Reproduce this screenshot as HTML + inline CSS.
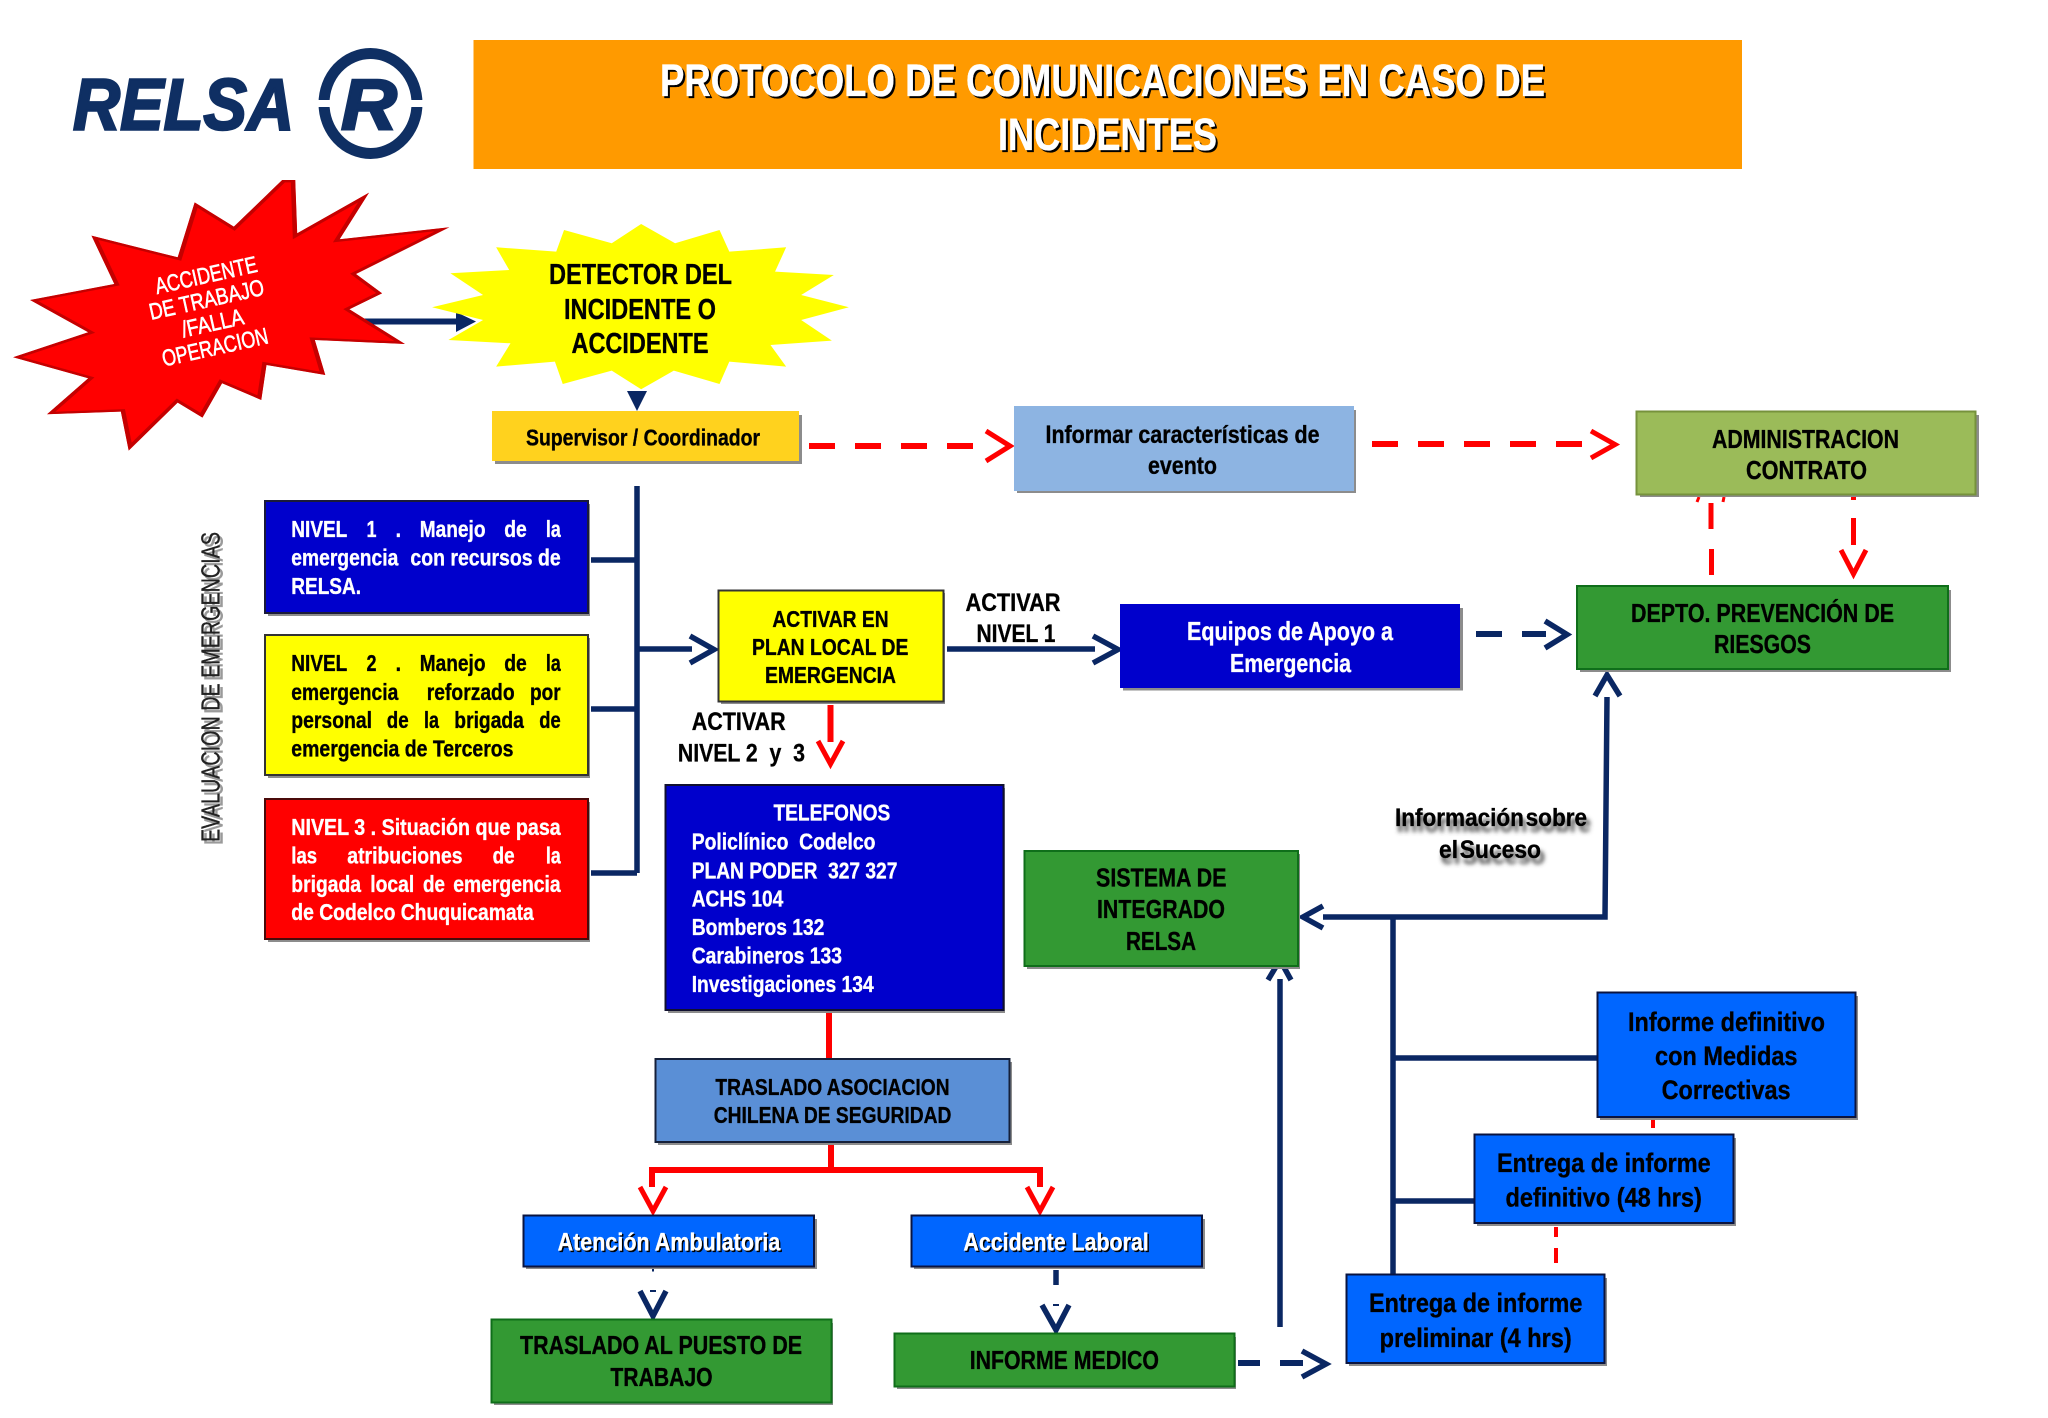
<!DOCTYPE html>
<html lang="es"><head><meta charset="utf-8"><title>Protocolo de comunicaciones</title>
<style>
html,body{margin:0;padding:0;background:#fff}
svg{display:block}
text{font-family:"Liberation Sans",Arial,sans-serif;font-weight:bold;white-space:pre;stroke:#000;stroke-width:.35}
.s{fill:#8c8c8c}
.n{fill:none;stroke:#0a2763;stroke-width:5.5}
.r{fill:none;stroke:#f00;stroke-width:5}
.w,.w text{fill:#fff}
text.w,.w text{stroke:#fff}
.x text{stroke:none}
</style></head><body>
<svg xmlns="http://www.w3.org/2000/svg" width="2048" height="1418" viewBox="0 0 2048 1418">
<defs>
<filter id="bl" x="-10%" y="-30%" width="120%" height="160%"><feGaussianBlur stdDeviation="2"/></filter>
<clipPath id="rc"><polygon points="452,540 455,700 565,578 520,718 688,682 545,822 585,880 535,928 620,1032 482,1020 498,1125 408,1095 400,1200 340,1150 310,1253 272,1208 197,1352 185,1235 72,1243 135,1135 20,1072 135,997 46,900 175,852 140,707 272,772 298,607 358,680 432,540"/></clipPath>
</defs>
<rect width="2048" height="1418" fill="#fff"/>

<!-- logo -->
<text x="73" y="129.500" font-size="72" font-style="italic" fill="#0f2f63" textLength="221" lengthAdjust="spacingAndGlyphs" style="stroke:#0f2f63;stroke-width:2.4">RELSA</text>
<ellipse cx="370.500" cy="103.500" rx="46.500" ry="50" fill="none" stroke="#0f2f63" stroke-width="11"/>
<rect x="316" y="100" width="108" height="7" fill="#fff"/>
<text x="341" y="129" font-size="71" font-style="italic" fill="#0f2f63" textLength="56" lengthAdjust="spacingAndGlyphs" style="stroke:#0f2f63;stroke-width:2.4">R</text>

<!-- title -->
<rect x="473.500" y="40" width="1268.500" height="129" fill="#ff9a00"/>
<g font-size="45" fill="#000">
<text x="662" y="98" textLength="885" lengthAdjust="spacingAndGlyphs">PROTOCOLO DE COMUNICACIONES EN CASO DE</text>
<text x="1000" y="152" textLength="219" lengthAdjust="spacingAndGlyphs">INCIDENTES</text>
</g>
<g class="w" font-size="45">
<text x="660" y="96" textLength="885" lengthAdjust="spacingAndGlyphs">PROTOCOLO DE COMUNICACIONES EN CASO DE</text>
<text x="998" y="150" textLength="219" lengthAdjust="spacingAndGlyphs">INCIDENTES</text>
</g>

<!-- star connector -->
<rect x="362" y="318.500" width="96" height="6" fill="#0a2763"/>
<polygon points="456,312 476,321.500 456,332" fill="#0a2763"/>

<!-- red star -->
<g transform="scale(.6532,.3333)">
<g clip-path="url(#rc)">
<polygon fill="#f00" stroke="#c40000" stroke-width="14" points="452,540 455,700 565,578 520,718 688,682 545,822 585,880 535,928 620,1032 482,1020 498,1125 408,1095 400,1200 340,1150 310,1253 272,1208 197,1352 185,1235 72,1243 135,1135 20,1072 135,997 46,900 175,852 140,707 272,772 298,607 358,680 432,540"/>
</g>
</g>
<g class="w" font-size="23">
<text transform="translate(206,275) rotate(-12.500)" y="8" x="-52" textLength="104" lengthAdjust="spacingAndGlyphs" style="font-weight:normal;stroke-width:.6">ACCIDENTE</text>
<text transform="translate(206,299.500) rotate(-12.500)" y="8" x="-58" textLength="117" lengthAdjust="spacingAndGlyphs" style="font-weight:normal;stroke-width:.6">DE TRABAJO</text>
<text transform="translate(212,323) rotate(-12.500)" y="8" x="-31" textLength="63" lengthAdjust="spacingAndGlyphs" style="font-weight:normal;stroke-width:.6">/FALLA</text>
<text transform="translate(215,347) rotate(-12.500)" y="8" x="-54" textLength="108" lengthAdjust="spacingAndGlyphs" style="font-weight:normal;stroke-width:.6">OPERACION</text>
</g>

<!-- yellow star -->
<g transform="translate(1,0) scale(.6532,.3333)">
<polygon fill="#ffff00" points="980,672 1032,730 1100,690 1115,755 1202,742 1185,815 1275,825 1225,885 1298,922 1225,960 1272,1022 1178,1035 1202,1100 1115,1085 1100,1152 1030,1112 980,1168 935,1112 860,1152 848,1085 758,1100 780,1030 685,1020 738,960 660,922 738,885 688,820 778,810 758,742 850,755 862,690 935,730"/>
</g>
<polygon points="627,391 647,391 637,411" fill="#0a2763"/>
<g font-size="29">
<text x="549" y="284" textLength="183" lengthAdjust="spacingAndGlyphs">DETECTOR DEL</text>
<text x="564" y="319" textLength="152" lengthAdjust="spacingAndGlyphs">INCIDENTE O</text>
<text x="571.500" y="353" textLength="137" lengthAdjust="spacingAndGlyphs">ACCIDENTE</text>
</g>

<!-- connectors under boxes -->
<g class="n">
<path d="M637 486V873"/>
<path d="M591 560H637M591 709H637M591 873H637"/>
<path d="M637 649H692"/>
<path d="M690 636L714 649.500L690 663"/>
<path d="M947 649H1095"/>
<path d="M1093 636L1118 649.500L1093 663"/>
<path d="M1476 634H1502M1522 634H1546" style="stroke-width:6"/>
<path d="M1545 621L1567 634.500L1545 648"/>
<path d="M1607 697L1605 917H1323"/>
<path d="M1595 696L1607 675L1620 696"/>
<path d="M1323 906L1303 917L1323 928"/>
<path d="M1393 917V1274"/>
<path d="M1393 1058H1597M1393 1201H1474"/>
<path d="M1280 979V1327"/>
<path d="M1268 980L1280 960L1291 980"/>
<path d="M1238 1363H1260M1280 1363H1303" style="stroke-width:6"/>
<path d="M1302 1351L1326 1364L1302 1377"/>
<path d="M640 1291L653 1316L666 1291"/>
<path d="M1042 1305L1056 1330L1069 1305"/>
<path d="M1056 1270V1285"/>
<path d="M653 1269V1271.500M650 1291H656M1053 1305H1059" style="stroke-width:2"/>
</g>

<!-- red connectors -->
<g class="r">
<path d="M809 446H986" stroke-dasharray="26 20" style="stroke-width:6"/>
<path d="M986 431L1010 446L986 461"/>
<path d="M1372 444H1591" stroke-dasharray="26 20" style="stroke-width:6"/>
<path d="M1591 431L1615 444.500L1591 458"/>
<path d="M1711 503V529M1711.500 549V575"/>
<path d="M1697 502L1699 497M1724 497L1723 502" style="stroke-width:3"/>
<path d="M1853.500 497V500M1853.500 518V545"/>
<path d="M1841 550L1853.500 574L1866 550"/>
<path d="M830.500 705V742" style="stroke-width:6"/>
<path d="M818 741L830.500 764L843 741"/>
<path d="M829 1012V1058" style="stroke-width:6"/>
<path d="M831 1145V1170" style="stroke-width:6"/>
<path d="M652 1187V1170H1040V1187" style="stroke-width:6"/>
<path d="M640 1187L653 1211L666 1187"/>
<path d="M1027 1187L1040 1211L1053 1187"/>
<path d="M1653 1119V1128M1556 1227V1237M1556 1248V1263" style="stroke-width:4"/>
</g>

<!-- boxes -->
<rect class="s" x="495" y="415" width="307" height="49"/>
<rect x="492" y="411" width="307" height="50" fill="#ffd21e"/>
<text x="526" y="445.500" font-size="23.500" textLength="234" lengthAdjust="spacingAndGlyphs">Supervisor / Coordinador</text>

<rect class="s" x="1017" y="410" width="339" height="83"/>
<rect x="1014" y="406" width="340" height="85" fill="#8db4e2"/>
<text x="1045.500" y="443" font-size="25" textLength="274" lengthAdjust="spacingAndGlyphs">Informar características de</text>
<text x="1148" y="474" font-size="25" textLength="69" lengthAdjust="spacingAndGlyphs">evento</text>

<rect class="s" x="1640" y="415" width="339" height="82"/>
<rect x="1636.500" y="411.500" width="339" height="83" fill="#9bbb59" stroke="#76923c" stroke-width="2"/>
<text x="1712" y="448" font-size="26" textLength="187" lengthAdjust="spacingAndGlyphs">ADMINISTRACION</text>
<text x="1746" y="479" font-size="26" textLength="121" lengthAdjust="spacingAndGlyphs">CONTRATO</text>

<rect class="s" x="1580" y="590" width="371" height="82"/>
<rect x="1577" y="586" width="371" height="83" fill="#339933" stroke="#0f6e1a" stroke-width="2"/>
<text x="1631" y="622" font-size="26" textLength="263" lengthAdjust="spacingAndGlyphs">DEPTO. PREVENCIÓN DE</text>
<text x="1714" y="653" font-size="26" textLength="97" lengthAdjust="spacingAndGlyphs">RIESGOS</text>

<rect class="s" x="1123" y="608" width="340" height="82.500"/>
<rect x="1120" y="604" width="340" height="84" fill="#0000cc"/>
<text class="w" x="1187" y="640" font-size="26" textLength="206" lengthAdjust="spacingAndGlyphs">Equipos de Apoyo a</text>
<text class="w" x="1230" y="672" font-size="26" textLength="121" lengthAdjust="spacingAndGlyphs">Emergencia</text>

<text x="965.500" y="611" font-size="25" textLength="95" lengthAdjust="spacingAndGlyphs">ACTIVAR</text>
<text x="976.500" y="642" font-size="25" textLength="79" lengthAdjust="spacingAndGlyphs">NIVEL 1</text>

<!-- Nivel 1 -->
<rect class="s" x="268" y="504" width="322" height="112"/>
<rect x="265" y="501" width="323" height="112" fill="#0000cc" stroke="#1a1a3a" stroke-width="2"/>
<g class="w" font-size="23">
<text x="291.300" y="537" textLength="56" lengthAdjust="spacingAndGlyphs">NIVEL</text>
<text x="366.500" y="537" textLength="10" lengthAdjust="spacingAndGlyphs">1</text>
<text x="395.600" y="537" textLength="5.400" lengthAdjust="spacingAndGlyphs">.</text>
<text x="419.700" y="537" textLength="65.800" lengthAdjust="spacingAndGlyphs">Manejo</text>
<text x="504.200" y="537" textLength="22.500" lengthAdjust="spacingAndGlyphs">de</text>
<text x="545.900" y="537" textLength="14.800" lengthAdjust="spacingAndGlyphs">la</text>
<text x="291.300" y="565.500" textLength="107" lengthAdjust="spacingAndGlyphs">emergencia</text>
<text x="410.400" y="565.500" textLength="150.300" lengthAdjust="spacingAndGlyphs">con recursos de</text>
<text x="291.300" y="594" textLength="69.700" lengthAdjust="spacingAndGlyphs">RELSA.</text>
</g>

<!-- Nivel 2 -->
<rect class="s" x="268" y="638" width="322" height="140"/>
<rect x="265" y="635" width="323" height="140" fill="#ffff00" stroke="#333" stroke-width="2"/>
<g font-size="23">
<text x="291.300" y="671" textLength="56" lengthAdjust="spacingAndGlyphs">NIVEL</text>
<text x="366.500" y="671" textLength="10" lengthAdjust="spacingAndGlyphs">2</text>
<text x="395.600" y="671" textLength="5.400" lengthAdjust="spacingAndGlyphs">.</text>
<text x="419.700" y="671" textLength="65.800" lengthAdjust="spacingAndGlyphs">Manejo</text>
<text x="504.200" y="671" textLength="22.500" lengthAdjust="spacingAndGlyphs">de</text>
<text x="545.900" y="671" textLength="14.800" lengthAdjust="spacingAndGlyphs">la</text>
<text x="291.300" y="700" textLength="107" lengthAdjust="spacingAndGlyphs">emergencia</text>
<text x="426.800" y="700" textLength="87.800" lengthAdjust="spacingAndGlyphs">reforzado</text>
<text x="530" y="700" textLength="30.700" lengthAdjust="spacingAndGlyphs">por</text>
<text x="291.300" y="728" textLength="80.700" lengthAdjust="spacingAndGlyphs">personal</text>
<text x="386.800" y="728" textLength="21.900" lengthAdjust="spacingAndGlyphs">de</text>
<text x="424" y="728" textLength="14.900" lengthAdjust="spacingAndGlyphs">la</text>
<text x="454.300" y="728" textLength="69.600" lengthAdjust="spacingAndGlyphs">brigada</text>
<text x="539.300" y="728" textLength="21.400" lengthAdjust="spacingAndGlyphs">de</text>
<text x="291.300" y="756.500" textLength="222.200" lengthAdjust="spacingAndGlyphs">emergencia de Terceros</text>
</g>

<!-- Nivel 3 -->
<rect class="s" x="268" y="802" width="322" height="140"/>
<rect x="265" y="799" width="323" height="140" fill="#ff0000" stroke="#4a0a0a" stroke-width="2"/>
<g class="w" font-size="23">
<text x="291.300" y="835" textLength="269.400" lengthAdjust="spacingAndGlyphs">NIVEL 3 . Situación que pasa</text>
<text x="291.300" y="863.500" textLength="25.800" lengthAdjust="spacingAndGlyphs">las</text>
<text x="347.300" y="863.500" textLength="115.200" lengthAdjust="spacingAndGlyphs">atribuciones</text>
<text x="492.600" y="863.500" textLength="22" lengthAdjust="spacingAndGlyphs">de</text>
<text x="545.900" y="863.500" textLength="14.800" lengthAdjust="spacingAndGlyphs">la</text>
<text x="291.300" y="892" textLength="69.700" lengthAdjust="spacingAndGlyphs">brigada</text>
<text x="370.300" y="892" textLength="43.900" lengthAdjust="spacingAndGlyphs">local</text>
<text x="423" y="892" textLength="21.900" lengthAdjust="spacingAndGlyphs">de</text>
<text x="453.200" y="892" textLength="107.500" lengthAdjust="spacingAndGlyphs">emergencia</text>
<text x="291.300" y="920" textLength="242.500" lengthAdjust="spacingAndGlyphs">de Codelco Chuquicamata</text>
</g>

<!-- Evaluacion -->
<g font-size="26">
<text transform="translate(222.500,845) rotate(-90)" fill="#9a9a9a" textLength="310" lengthAdjust="spacingAndGlyphs" style="font-weight:normal;stroke:#9a9a9a;stroke-width:.5">EVALUACION DE EMERGENCIAS</text>
<text transform="translate(219.500,842) rotate(-90)" fill="#222" textLength="310" lengthAdjust="spacingAndGlyphs" style="font-weight:normal;stroke:#222;stroke-width:.3">EVALUACION DE EMERGENCIAS</text>
</g>

<!-- Activar en plan -->
<rect class="s" x="721" y="593" width="224" height="111"/>
<rect x="718.500" y="590.500" width="225" height="111" fill="#ffff00" stroke="#333" stroke-width="2"/>
<g font-size="23.500">
<text x="772.400" y="627" textLength="116.300" lengthAdjust="spacingAndGlyphs">ACTIVAR EN</text>
<text x="752" y="655" textLength="156.400" lengthAdjust="spacingAndGlyphs">PLAN LOCAL DE</text>
<text x="765" y="683" textLength="131" lengthAdjust="spacingAndGlyphs">EMERGENCIA</text>
</g>
<text x="691.700" y="730" font-size="25" textLength="94" lengthAdjust="spacingAndGlyphs">ACTIVAR</text>
<text x="677.900" y="761.700" font-size="25" textLength="127" lengthAdjust="spacingAndGlyphs">NIVEL 2  y  3</text>

<!-- Telefonos -->
<rect class="s" x="668" y="788" width="337" height="225"/>
<rect x="665.500" y="785" width="338" height="225" fill="#0000cc" stroke="#101030" stroke-width="2"/>
<g class="w" font-size="23">
<text x="773.500" y="820.700" textLength="116.800" lengthAdjust="spacingAndGlyphs">TELEFONOS</text>
<text x="691.700" y="849.700" textLength="183.800" lengthAdjust="spacingAndGlyphs">Policlínico  Codelco</text>
<text x="691.700" y="878.300" textLength="205.700" lengthAdjust="spacingAndGlyphs">PLAN PODER  327 327</text>
<text x="691.700" y="906.600" textLength="91.600" lengthAdjust="spacingAndGlyphs">ACHS 104</text>
<text x="691.700" y="935.200" textLength="132.700" lengthAdjust="spacingAndGlyphs">Bomberos 132</text>
<text x="691.700" y="963.400" textLength="150.300" lengthAdjust="spacingAndGlyphs">Carabineros 133</text>
<text x="691.700" y="992" textLength="182" lengthAdjust="spacingAndGlyphs">Investigaciones 134</text>
</g>

<!-- Sistema -->
<rect class="s" x="1027" y="854" width="273" height="115"/>
<rect x="1024.500" y="851" width="273.500" height="115" fill="#339933" stroke="#0f6e1a" stroke-width="2"/>
<g font-size="26">
<text x="1096" y="886.700" textLength="130.500" lengthAdjust="spacingAndGlyphs">SISTEMA DE</text>
<text x="1097" y="918" textLength="128" lengthAdjust="spacingAndGlyphs">INTEGRADO</text>
<text x="1126" y="950" textLength="70" lengthAdjust="spacingAndGlyphs">RELSA</text>
</g>

<!-- Informacion -->
<g class="x" font-size="25" fill="#444" filter="url(#bl)" word-spacing="-5">
<text x="1397" y="832" textLength="194" lengthAdjust="spacingAndGlyphs">Información sobre</text>
<text x="1441" y="864" textLength="104" lengthAdjust="spacingAndGlyphs">el Suceso</text>
</g>
<g font-size="25" word-spacing="-5">
<text x="1395" y="826" textLength="192" lengthAdjust="spacingAndGlyphs">Información sobre</text>
<text x="1439" y="858" textLength="102" lengthAdjust="spacingAndGlyphs">el Suceso</text>
</g>

<!-- Traslado -->
<rect class="s" x="658" y="1062" width="354" height="83"/>
<rect x="655.500" y="1059" width="354" height="83" fill="#5a8fd6" stroke="#15203a" stroke-width="2"/>
<g font-size="23">
<text x="715.400" y="1095" textLength="234.200" lengthAdjust="spacingAndGlyphs">TRASLADO ASOCIACION</text>
<text x="713.700" y="1123" textLength="237.700" lengthAdjust="spacingAndGlyphs">CHILENA DE SEGURIDAD</text>
</g>

<!-- Atencion / Accidente -->
<rect class="s" x="526" y="1219" width="291" height="50"/>
<rect x="523.500" y="1215.500" width="290.500" height="51" fill="#0066ff" stroke="#0a1440" stroke-width="2"/>
<text x="559" y="1252" font-size="25" fill="#000" textLength="222.700" lengthAdjust="spacingAndGlyphs">Atención Ambulatoria</text>
<text class="w" x="557.600" y="1250.700" font-size="25" textLength="222.700" lengthAdjust="spacingAndGlyphs">Atención Ambulatoria</text>
<rect class="s" x="914" y="1219" width="291" height="50"/>
<rect x="911.500" y="1215.500" width="290.500" height="51" fill="#0066ff" stroke="#0a1440" stroke-width="2"/>
<text x="964.800" y="1252" font-size="25" fill="#000" textLength="185.400" lengthAdjust="spacingAndGlyphs">Accidente Laboral</text>
<text class="w" x="963.400" y="1250.700" font-size="25" textLength="185.400" lengthAdjust="spacingAndGlyphs">Accidente Laboral</text>

<!-- Traslado puesto -->
<rect class="s" x="494" y="1323" width="339" height="82"/>
<rect x="491.500" y="1319.500" width="340" height="83" fill="#339933" stroke="#0f6e1a" stroke-width="2"/>
<text x="520" y="1354" font-size="26" textLength="282" lengthAdjust="spacingAndGlyphs">TRASLADO AL PUESTO DE</text>
<text x="610.400" y="1386" font-size="26" textLength="102.200" lengthAdjust="spacingAndGlyphs">TRABAJO</text>

<!-- Informe medico -->
<rect class="s" x="897" y="1337" width="339" height="52"/>
<rect x="894.500" y="1333.500" width="340" height="53" fill="#339933" stroke="#0f6e1a" stroke-width="2"/>
<text x="969.700" y="1369" font-size="26" textLength="189.300" lengthAdjust="spacingAndGlyphs">INFORME MEDICO</text>

<!-- informes -->
<rect class="s" x="1600" y="996" width="258" height="124"/>
<rect x="1597.500" y="992.500" width="258" height="124.500" fill="#0066ff" stroke="#0a1440" stroke-width="2"/>
<g font-size="27">
<text x="1628" y="1031" textLength="197" lengthAdjust="spacingAndGlyphs">Informe definitivo</text>
<text x="1655" y="1065" textLength="142.500" lengthAdjust="spacingAndGlyphs">con Medidas</text>
<text x="1661.600" y="1099" textLength="129" lengthAdjust="spacingAndGlyphs">Correctivas</text>
</g>
<rect class="s" x="1477" y="1138" width="259" height="88"/>
<rect x="1474.500" y="1134.500" width="259" height="88.500" fill="#0066ff" stroke="#0a1440" stroke-width="2"/>
<g font-size="27">
<text x="1497" y="1172" textLength="213.600" lengthAdjust="spacingAndGlyphs">Entrega de informe</text>
<text x="1505.500" y="1206.700" textLength="196.300" lengthAdjust="spacingAndGlyphs">definitivo (48 hrs)</text>
</g>
<rect class="s" x="1349" y="1278" width="258" height="88"/>
<rect x="1346.500" y="1274.500" width="258" height="88.500" fill="#0066ff" stroke="#0a1440" stroke-width="2"/>
<g font-size="27">
<text x="1369" y="1312" textLength="213.400" lengthAdjust="spacingAndGlyphs">Entrega de informe</text>
<text x="1379.600" y="1347" textLength="192.100" lengthAdjust="spacingAndGlyphs">preliminar (4 hrs)</text>
</g>
</svg>
</body></html>
